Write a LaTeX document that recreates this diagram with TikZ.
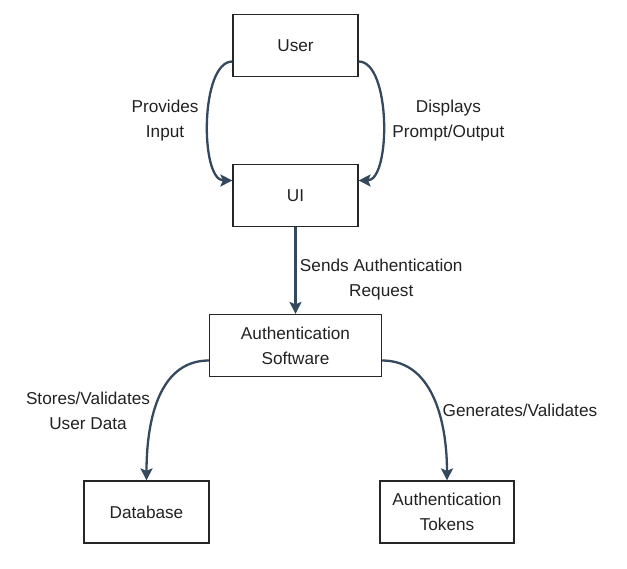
\documentclass[tikz,border=0pt]{standalone}
\usepackage{fontspec}
\setmainfont{Liberation Sans}
\usetikzlibrary{arrows.meta}
\definecolor{edgecol}{HTML}{34495E}
\definecolor{textcol}{HTML}{222222}

\begin{document}
\begin{tikzpicture}[x=1pt, y=1pt, align=center,
  font=\fontsize{17.2}{25}\selectfont, text=textcol,
  box/.style={rectangle, draw=black!85, line width=1.2pt, minimum height=62pt, inner sep=0pt},
  flow/.style={draw=edgecol, line width=2.3pt, -{Stealth[length=12pt, width=12pt, inset=2.5pt]}}]
\useasboundingbox (0,0) rectangle (627,569);
\path (295.5,523.5) node[box, minimum width=125pt] (user) {User}
      (295.5,373.5) node[box, minimum width=125pt] (ui) {UI}
      (295.5,223.5) node[box, minimum width=172pt] (auth) {Authentication\\Software}
      (146.5,57) node[box, minimum width=125pt] (db) {Database}
      (447,57) node[box, minimum width=134pt] (tok) {Authentication\\Tokens};

\draw[flow] ([yshift=-16pt]user.west) to[out=180, in=180, looseness=0.7] node[left, xshift=-5pt] {Provides\\Input} ([yshift=15pt]ui.west);
\draw[flow] ([yshift=-16pt]user.east) to[out=0, in=0, looseness=0.7] node[right, xshift=5pt] {Displays\\Prompt/Output} ([yshift=15pt]ui.east);
\draw[flow] (ui) to node[right, pos=0.6] {Sends Authentication\\Request} (auth);
\draw[flow] ([yshift=-15pt]auth.west) to[out=180, in=90] node[left, pos=0.57] {Stores/Validates\\User Data} (db);
\draw[flow] ([yshift=-15pt]auth.east) to[out=0, in=90] node[right, pos=0.57] {Generates/Validates} (tok);

\end{tikzpicture}
\end{document}
